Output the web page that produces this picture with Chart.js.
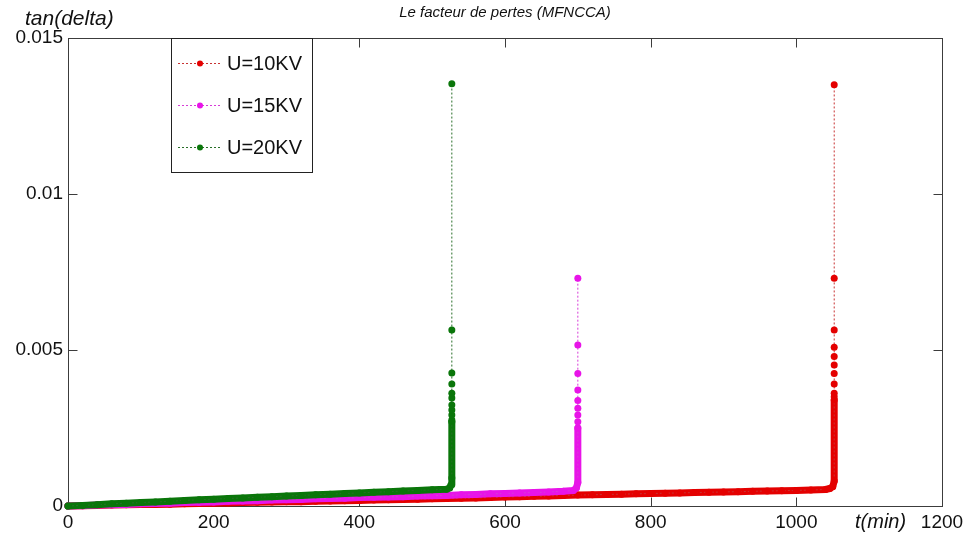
<!DOCTYPE html>
<html>
<head>
<meta charset="utf-8">
<title>Le facteur de pertes (MFNCCA)</title>
<script src="https://cdn.jsdelivr.net/npm/chart.js@4.4.1/dist/chart.umd.min.js"></script>
<style>
  html, body { margin: 0; padding: 0; background: #fff; }
  #wrap { position: relative; width: 971px; height: 536px; }
  canvas { display: block; }
</style>
</head>
<body>
<div id="wrap"><canvas id="chart" width="971" height="536"></canvas></div>
<script>
// ---- Labels ----
const chartTitle = 'Le facteur de pertes (MFNCCA)';
const yTitle = 'tan(delta)';
const xTitle = 't(min)';
const seriesLabels = ['U=10KV', 'U=15KV', 'U=20KV'];

// ---- Axis ticks ----
const xTicks = [0, 200, 400, 600, 800, 1000, 1200];
const yTicks = [0, 0.005, 0.01, 0.015];

// ---- U = 10 kV : slow rise, then breakdown ----
const minutes10 = [0, 20, 40, 60, 80, 100, 120, 140, 160, 180, 200, 220, 240, 260, 280, 300, 320, 340, 360, 380,
  400, 420, 440, 460, 480, 500, 520, 540, 560, 580, 600, 620, 640, 660, 680, 700, 720, 740, 760, 780,
  800, 820, 840, 860, 880, 900, 920, 940, 960, 980, 1000, 1020, 1040, 1046, 1050, 1052, 1052];
const loss10 = [0, 0.00001, 0.00002, 0.00003, 0.00004, 0.00005, 0.00005, 0.00006, 0.00007, 0.00008, 0.00009, 0.0001, 0.00011, 0.00012, 0.00013, 0.00014, 0.00014, 0.00015, 0.00016, 0.00017,
  0.00018, 0.00019, 0.0002, 0.00021, 0.00022, 0.00023, 0.00024, 0.00025, 0.00026, 0.00027, 0.00029, 0.0003, 0.00031, 0.00032, 0.00034, 0.00035, 0.00036, 0.00037, 0.00038, 0.00039,
  0.0004, 0.00041, 0.00042, 0.00043, 0.00044, 0.00045, 0.00046, 0.00047, 0.00048, 0.00049, 0.0005, 0.00051, 0.00053, 0.00056, 0.00062, 0.0008, 0.0034];
const breakdown10 = 1052;
const peaks10 = [0.0035, 0.00361, 0.00391, 0.00425, 0.00452, 0.00479, 0.00509, 0.00564, 0.0073, 0.0135];

// ---- U = 15 kV ----
const minutes15 = [0, 20, 40, 60, 80, 100, 120, 140, 160, 180, 200, 220, 240, 260, 280, 300, 320, 340, 360, 380,
  400, 420, 440, 460, 480, 500, 520, 540, 560, 580, 600, 620, 640, 660, 680, 694, 698, 700, 700];
const loss15 = [0, 0.00001, 0.00003, 0.00004, 0.00005, 0.00007, 0.00008, 0.00009, 0.00011, 0.00012, 0.00013, 0.00015, 0.00016, 0.00017, 0.00019, 0.0002, 0.00021, 0.00023, 0.00024, 0.00025,
  0.00027, 0.00028, 0.00029, 0.0003, 0.00032, 0.00033, 0.00034, 0.00036, 0.00037, 0.00039, 0.0004, 0.00042, 0.00043, 0.00045, 0.00047, 0.0005, 0.00058, 0.00075, 0.0025];
const breakdown15 = 700;
const peaks15 = [0.0027, 0.00292, 0.00313, 0.00338, 0.00372, 0.00425, 0.00516, 0.0073];

// ---- U = 20 kV ----
const minutes20 = [0, 20, 40, 60, 80, 100, 120, 140, 160, 180, 200, 220, 240, 260, 280, 300, 320, 340, 360, 380,
  400, 420, 440, 460, 480, 500, 520, 524, 526, 527, 527];
const loss20 = [0, 0.00002, 0.00004, 0.00007, 0.00009, 0.00011, 0.00013, 0.00015, 0.00018, 0.0002, 0.00022, 0.00024, 0.00026, 0.00028, 0.0003, 0.00032, 0.00034, 0.00036, 0.00038, 0.0004,
  0.00042, 0.00044, 0.00046, 0.00048, 0.0005, 0.00052, 0.00054, 0.00058, 0.00068, 0.0009, 0.0027];
const breakdown20 = 527;
const peaks20 = [0.00276, 0.00292, 0.00308, 0.00324, 0.00346, 0.00361, 0.00391, 0.00426, 0.00564, 0.01353];

// ---- Styling ----
const colors = ['rgb(228,0,0)', 'rgb(232,20,232)', 'rgb(10,118,10)'];
const dashColors = ['rgb(200,50,50)', 'rgb(215,60,215)', 'rgb(40,110,40)'];
const FONT = '"Liberation Sans", Arial, Helvetica, sans-serif';

function pts(times, vals) {
  return times.map((t, i) => ({ x: t, y: vals[i] }));
}
function column(t, vals) {
  return vals.map(v => ({ x: t, y: v }));
}

const series = [
  { times: minutes10, vals: loss10, t: breakdown10, peaks: peaks10 },
  { times: minutes15, vals: loss15, t: breakdown15, peaks: peaks15 },
  { times: minutes20, vals: loss20, t: breakdown20, peaks: peaks20 },
];

// Each series: a dense trace (thick band of overlapping markers) and
// the dotted line with its individual markers up to breakdown.
const datasets = [];
series.forEach((s, i) => {
  const base = (2 - i) * 2; // 20 kV drawn on top, then 15 kV, then 10 kV
  datasets.push({
    label: seriesLabels[i],
    data: pts(s.times, s.vals).concat(column(s.t, s.peaks)),
    borderColor: dashColors[i],
    borderWidth: 1,
    borderDash: [2, 2],
    pointRadius: 3.5,
    pointBorderWidth: 0,
    pointBackgroundColor: colors[i],
    pointBorderColor: colors[i],
    tension: 0,
    order: base,
    clip: 5,
  });
  datasets.push({
    label: '',
    data: pts(s.times, s.vals),
    borderColor: colors[i],
    borderWidth: 7,
    borderCapStyle: 'round',
    borderJoinStyle: 'round',
    pointRadius: 0,
    tension: 0,
    order: base + 1,
    clip: 5,
  });
});

const framePlugin = {
  id: 'frame',
  beforeDatasetsDraw(chart) {
    const { ctx, chartArea: a, scales: { x, y } } = chart;
    ctx.save();
    ctx.strokeStyle = '#3c3c3c';
    ctx.lineWidth = 1;
    const L = Math.round(a.left) + 0.5, R = Math.round(a.right) + 0.5;
    const T = Math.round(a.top) + 0.5, B = Math.round(a.bottom) + 0.5;
    ctx.strokeRect(L, T, R - L, B - T);
    const tl = 9;
    ctx.beginPath();
    xTicks.forEach(v => {
      const px = Math.round(x.getPixelForValue(v)) + 0.5;
      ctx.moveTo(px, B); ctx.lineTo(px, B - tl);
      ctx.moveTo(px, T); ctx.lineTo(px, T + tl);
    });
    yTicks.forEach(v => {
      const py = Math.round(y.getPixelForValue(v)) + 0.5;
      ctx.moveTo(L, py); ctx.lineTo(L + tl, py);
      ctx.moveTo(R, py); ctx.lineTo(R - tl, py);
    });
    ctx.stroke();
    ctx.restore();
  },
  afterDraw(chart) {
    const { ctx, chartArea: a } = chart;
    ctx.save();
    ctx.fillStyle = '#111';
    ctx.textBaseline = 'middle';
    // title
    ctx.font = 'italic 15px ' + FONT;
    ctx.textAlign = 'center';
    ctx.fillText(chartTitle, (a.left + a.right) / 2, 13);
    // axis titles
    ctx.font = 'italic 21px ' + FONT;
    ctx.textAlign = 'left';
    ctx.fillText(yTitle, 25, 19);
    ctx.font = 'italic 20px ' + FONT;
    ctx.fillText(xTitle, 855, 522);

    // legend box
    const bx = 171.5, by = 38.5, bw = 141, bh = 134;
    ctx.fillStyle = '#fff';
    ctx.fillRect(bx, by, bw, bh);
    ctx.strokeStyle = '#222';
    ctx.lineWidth = 1;
    ctx.strokeRect(bx, by, bw, bh);
    const rows = [63, 105, 147];
    seriesLabels.forEach((lab, i) => {
      const ry = rows[i] + 0.5;
      ctx.strokeStyle = dashColors[i];
      ctx.setLineDash([2, 2]);
      ctx.beginPath();
      ctx.moveTo(178, ry); ctx.lineTo(222, ry);
      ctx.stroke();
      ctx.setLineDash([]);
      ctx.fillStyle = colors[i];
      ctx.beginPath();
      ctx.arc(200, ry, 3, 0, Math.PI * 2);
      ctx.fill();
      ctx.fillStyle = '#111';
      ctx.font = '20px ' + FONT;
      ctx.textAlign = 'left';
      ctx.fillText(lab, 227, rows[i] + 1);
    });
    ctx.restore();
  }
};

new Chart(document.getElementById('chart'), {
  type: 'line',
  data: { datasets },
  options: {
    responsive: false,
    devicePixelRatio: 1,
    animation: false,
    events: [],
    layout: { padding: { top: 38, right: 29, left: 0, bottom: 0 } },
    plugins: { legend: { display: false }, tooltip: { enabled: false }, title: { display: false } },
    scales: {
      x: {
        type: 'linear',
        min: 0, max: 1200,
        afterBuildTicks: s => { s.ticks = xTicks.map(v => ({ value: v })); },
        afterFit: s => { s.height = 30; },
        grid: { display: false, drawTicks: false },
        border: { display: false },
        ticks: {
          padding: 5,
          color: '#111',
          font: { family: FONT, size: 19 },
          callback: v => String(v),
          maxRotation: 0,
          autoSkip: false,
        },
      },
      y: {
        type: 'linear',
        min: 0, max: 0.015,
        afterBuildTicks: s => { s.ticks = yTicks.map(v => ({ value: v })); },
        afterFit: s => { s.width = 68; },
        grid: { display: false, drawTicks: false },
        border: { display: false },
        ticks: {
          padding: 5,
          color: '#111',
          font: { family: FONT, size: 19 },
          callback: v => String(+Number(v).toFixed(3)),
          autoSkip: false,
        },
      },
    },
  },
  plugins: [framePlugin],
});
</script>
</body>
</html>
